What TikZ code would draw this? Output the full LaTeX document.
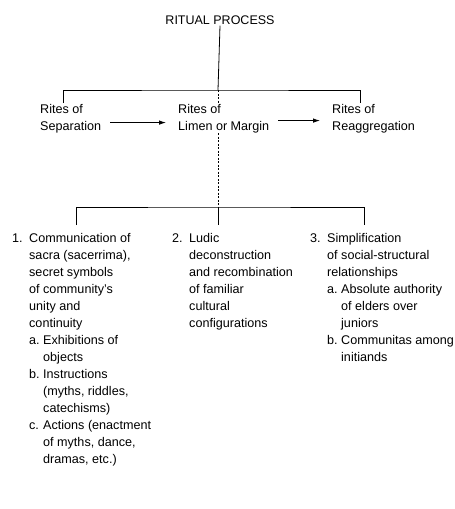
\documentclass[tikz,border=0pt]{standalone}
\usepackage{fontspec}
\setmainfont{Liberation Sans}
\usetikzlibrary{arrows.meta}

\newcommand{\numl}[1]{\makebox[17pt][l]{#1}}
\newcommand{\subl}[1]{\makebox[14pt][l]{#1}}
\newcommand{\indl}{\hspace*{17pt}}
\newcommand{\subind}{\hspace*{31pt}}

\tikzset{
  txt/.style={font=\fontsize{12.6}{17}\selectfont, align=left, inner sep=0pt, anchor=north west},
  link/.style={line width=0.8pt},
  flow/.style={line width=0.8pt, -{Latex[length=7pt,width=4.5pt]}, shorten <=9pt, shorten >=12pt}
}

\begin{document}
\begin{tikzpicture}[x=1pt,y=-1pt]

%definitions
\useasboundingbox (0,0) rectangle (455,509);
\coordinate (hub1) at (218,90);
\coordinate (hub2) at (218,207);
\coordinate (left1) at (63,103);
\coordinate (right1) at (360,103);
\coordinate (left2) at (76,225);
\coordinate (mid2) at (218,225);
\coordinate (right2) at (364,225);

%title and rites
\node[font=\fontsize{12.5}{14}\selectfont, inner sep=1pt] (ritual) at (220,20) {RITUAL PROCESS};

\node[txt] (sep) at (40,104) {Rites of\\Separation};
\node[txt] (limen) at (178,104) {Rites of\\Limen or Margin};
\node[txt] (reag) at (332,104) {Rites of\\Reaggregation};

%columns
\node[txt] (sacra) at (12,233) {\numl{1.}Communication of\\
\indl sacra (sacerrima),\\
\indl secret symbols\\
\indl of community's\\
\indl unity and\\
\indl continuity\\
\indl\subl{a.}Exhibitions of\\
\subind objects\\
\indl\subl{b.}Instructions\\
\subind (myths, riddles,\\
\subind catechisms)\\
\indl\subl{c.}Actions (enactment\\
\subind of myths, dance,\\
\subind dramas, etc.)};

\node[txt] (ludic) at (172,233) {\numl{2.}Ludic\\
\indl deconstruction\\
\indl and recombination\\
\indl of familiar\\
\indl cultural\\
\indl configurations};

\node[txt] (simpl) at (310,233) {\numl{3.}Simplification\\
\indl of social-structural\\
\indl relationships\\
\indl\subl{a.}Absolute authority\\
\subind of elders over\\
\subind juniors\\
\indl\subl{b.}Communitas among\\
\subind initiands};

%connectors
\draw[link] (ritual.south) -- (hub1);
\draw[link] (left1) |- (hub1) -| (right1);
\draw[link, dashed, dash pattern=on 2pt off 1.5pt] (hub1) -- (hub1 |- limen.north);

\draw[flow] ([yshift=-4pt]sep.east) -- ([yshift=-4pt]limen.west);
\draw[flow] ([yshift=-2pt]limen.east) -- ([yshift=-2pt]reag.west);

\draw[link, dashed, dash pattern=on 2pt off 1.5pt] (hub1 |- limen.south) -- (hub2);
\draw[link] (left2) |- (hub2) -| (right2);
\draw[link] (hub2) -- (mid2);

\end{tikzpicture}
\end{document}
